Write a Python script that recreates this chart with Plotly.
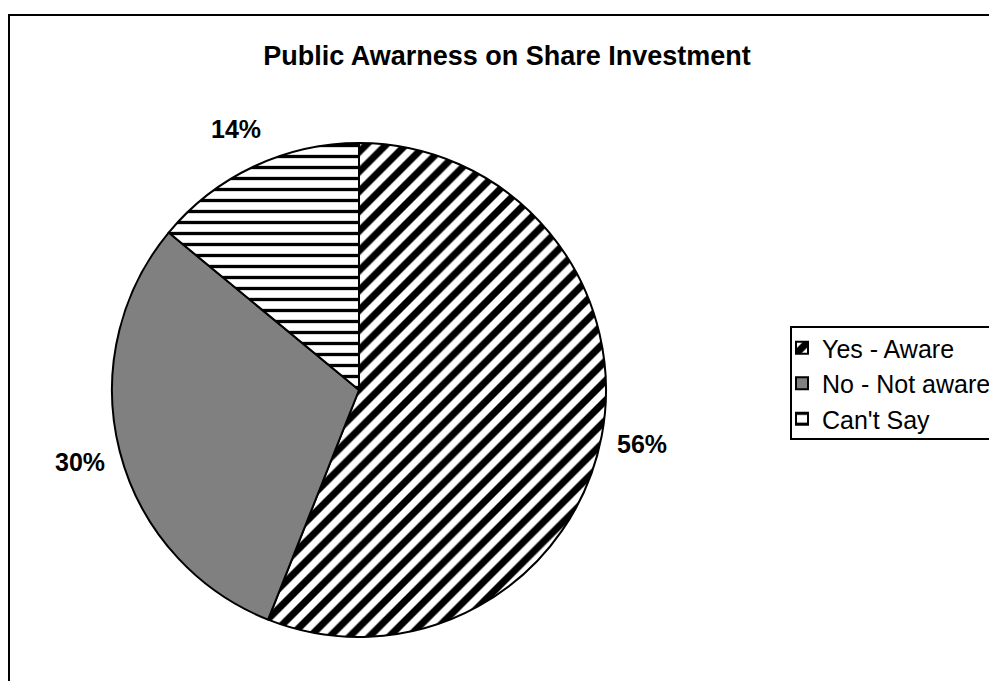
import math
import plotly.graph_objects as go

labels = ["Yes - Aware", "No - Not aware", "Can't Say"]
values = [56, 30, 14]
title_text = "Public Awarness on Share Investment"

W, H = 997, 681
OFF = 8  # page body margin offset of the rendered figure
cx, cy, R = 359 - OFF, 390 - OFF, 247  # pie centre / radius in figure px

FONT = "Liberation Sans, Arial"

fig = go.Figure(go.Pie(
    labels=labels,
    values=values,
    sort=False,
    direction="clockwise",
    rotation=0,
    textinfo="none",
    hoverinfo="label+percent",
    marker=dict(
        colors=["white", "#808080", "white"],
        line=dict(color="black", width=2),
        pattern=dict(
            shape=["/", "", "-"],
            fgcolor="black",
            fgopacity=1,
            bgcolor=["white", "#808080", "white"],
            size=[14, 10, 11],
            solidity=[0.5, 0.3, 0.3],
            fillmode="overlay",
        ),
    ),
    domain=dict(
        x=[(cx - R) / W, (cx + R) / W],
        y=[(H - cy - R) / H, (H - cy + R) / H],
    ),
))

# percentage labels placed around the pie from the data
total = sum(values)
cum = 0
label_r = 288
for v in values:
    mid = (cum + v / 2) / total
    cum += v
    ang = math.radians(90 - 360 * mid)
    px = cx + label_r * math.cos(ang)
    py = cy - label_r * math.sin(ang)
    fig.add_annotation(
        x=px / W, y=1 - py / H, xref="paper", yref="paper",
        xanchor="center", yanchor="middle",
        text=f"<b>{round(100 * v / total)}%</b>", showarrow=False,
        font=dict(family=FONT, size=25, color="black"),
    )

# outer chart border
fig.add_shape(type="rect", xref="paper", yref="paper",
              x0=(9 - OFF) / W, x1=1.05, y0=-0.05, y1=1 - (15 - OFF) / H,
              line=dict(color="black", width=2), fillcolor="rgba(0,0,0,0)")
# legend border
fig.add_shape(type="rect", xref="paper", yref="paper",
              x0=(791 - OFF) / W, x1=1.05, y0=1 - (439 - OFF) / H, y1=1 - (327 - OFF) / H,
              line=dict(color="black", width=2), fillcolor="white", layer="below")

fig.update_layout(
    width=W, height=H,
    margin=dict(l=0, r=0, t=0, b=0),
    paper_bgcolor="white",
    plot_bgcolor="white",
    font=dict(family=FONT, size=25, color="black"),
    title=dict(text=f"<b>{title_text}</b>", x=(507 - OFF) / W, y=1 - (56 - OFF) / H,
               xanchor="center", yanchor="middle",
               font=dict(family=FONT, size=27, color="black")),
    legend=dict(
        x=(782 - OFF) / W, y=1 - (325 - OFF) / H, xanchor="left", yanchor="top",
        borderwidth=0, bgcolor="rgba(0,0,0,0)",
        font=dict(family=FONT, size=25, color="black"),
        itemwidth=30,
    ),
)

fig.write_html("out.html")
